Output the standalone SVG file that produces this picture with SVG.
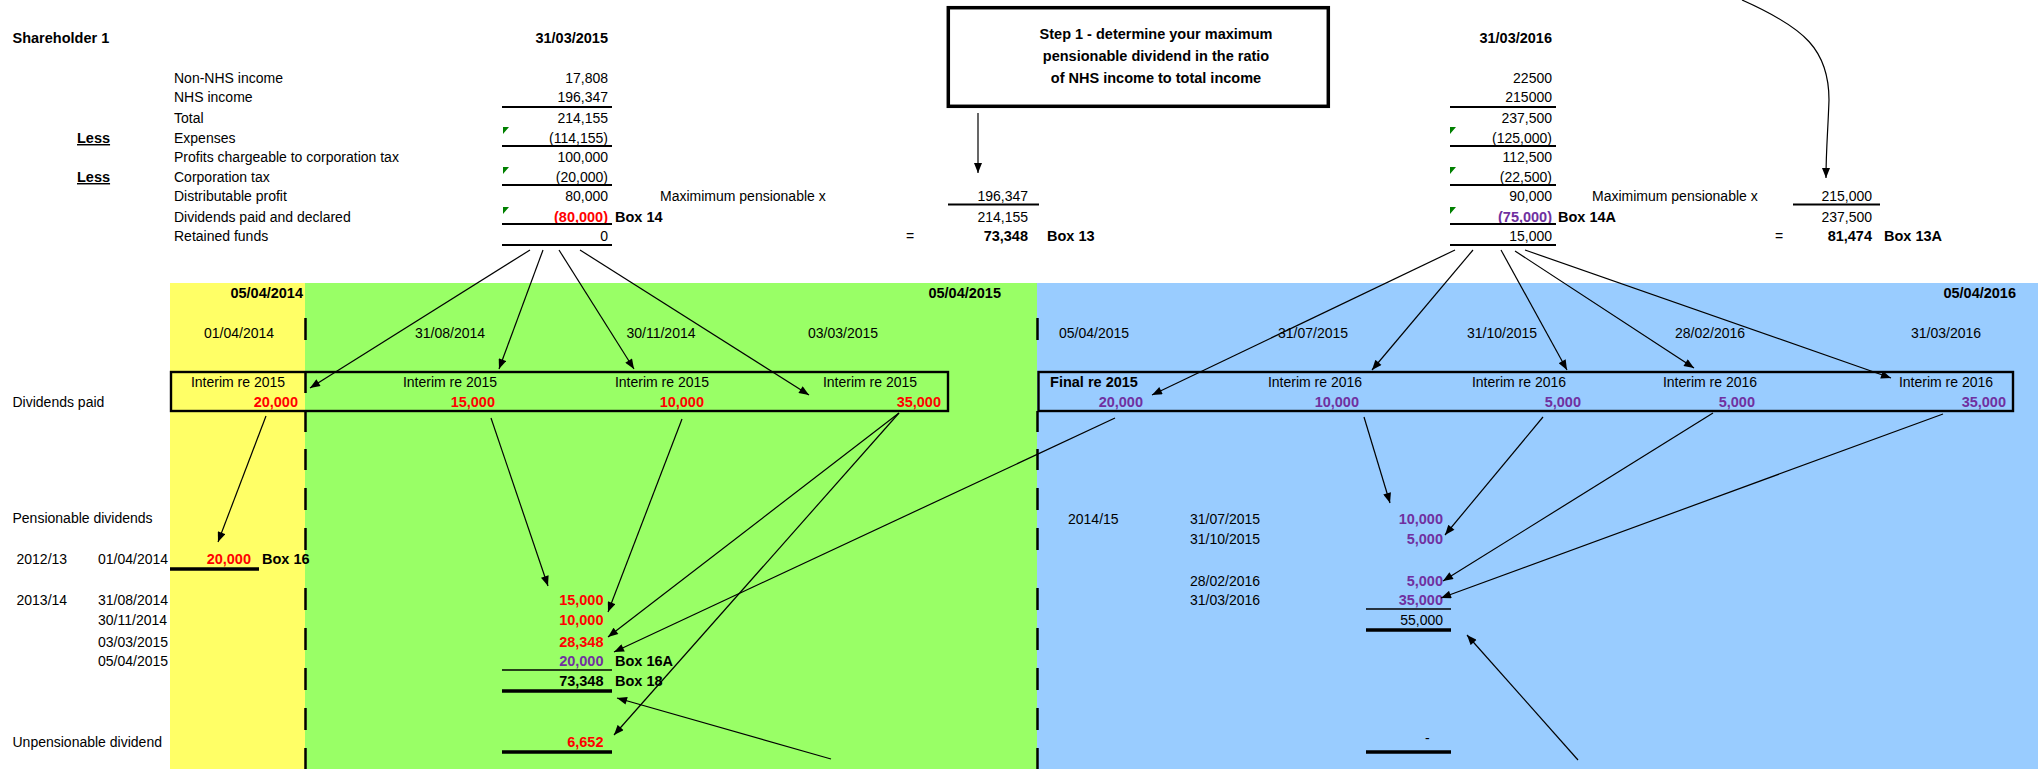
<svg xmlns="http://www.w3.org/2000/svg" width="2038" height="769" viewBox="0 0 2038 769">
<defs>
<style>
text { font-family: "Liberation Sans", Arial, sans-serif; font-size: 14px; fill: #000; }
.b { font-weight: bold; font-size: 14.5px; }
.r { fill: #FF0000; font-weight: bold; font-size: 14.5px; }
.p { fill: #7030A0; font-weight: bold; font-size: 14.5px; }
.m { text-anchor: middle; }
.e { text-anchor: end; }
.u { text-decoration: underline; }
.ln { stroke: #000; stroke-width: 2; fill: none; }
.thin { stroke: #000; stroke-width: 1.5; fill: none; }
.thick { stroke: #000; stroke-width: 3.5; fill: none; }
.dash { stroke: #000; stroke-width: 2.5; fill: none; }
.box { stroke: #000; stroke-width: 2.4; fill: none; }
.cm { fill: #008000; }
#connectors line, #connectors path { stroke: #000; stroke-width: 1.2; fill: none; marker-end: url(#ah); }
</style>
<marker id="ah" viewBox="0 0 10 8" refX="10" refY="4" markerWidth="11" markerHeight="8" orient="auto" markerUnits="userSpaceOnUse">
<path d="M0,0 L10,4 L0,8 z" fill="#000"/>
</marker>
</defs>
<rect x="0" y="0" width="2038" height="769" fill="#FFFFFF"/>

<g id="bands">
<rect x="170" y="283" width="135" height="486" fill="#FFFF66"/>
<rect x="305" y="283" width="732" height="486" fill="#99FF66"/>
<rect x="1037" y="283" width="1001" height="486" fill="#99CCFF"/>
<path class="dash" d="M305.5,318V340M305.5,373V393M305.5,411V432M305.5,449V470M305.5,488V510M305.5,528V550M305.5,588V610M305.5,628V650M305.5,668V690M305.5,708V730M305.5,748V769"/>
<path class="dash" d="M1037.5,318V340M1037.5,411V432M1037.5,449V470M1037.5,488V510M1037.5,528V550M1037.5,588V610M1037.5,628V650M1037.5,668V690M1037.5,708V730M1037.5,748V769"/>
</g>

<g id="pl2015">
<text x="12.5" y="43" class="b">Shareholder 1</text>
<text x="608" y="43" class="b e">31/03/2015</text>
<text x="174" y="83">Non-NHS income</text><text x="608" y="83" class="e">17,808</text>
<text x="174" y="102">NHS income</text><text x="608" y="102" class="e">196,347</text>
<text x="174" y="123">Total</text><text x="608" y="123" class="e">214,155</text>
<text x="77" y="143" class="b u">Less</text>
<text x="174" y="143">Expenses</text><text x="608" y="143" class="e">(114,155)</text>
<text x="174" y="162">Profits chargeable to corporation tax</text><text x="608" y="162" class="e">100,000</text>
<text x="77" y="182" class="b u">Less</text>
<text x="174" y="182">Corporation tax</text><text x="608" y="182" class="e">(20,000)</text>
<text x="174" y="201">Distributable profit</text><text x="608" y="201" class="e">80,000</text>
<text x="174" y="222">Dividends paid and declared</text><text x="608" y="222" class="r e">(80,000)</text><text x="615" y="222" class="b">Box 14</text>
<text x="174" y="241">Retained funds</text><text x="608" y="241" class="e">0</text>
<path class="ln" d="M502,107H612M502,146H612M502,185H612M502,224H612M502,245H612"/>
<path class="cm" d="M503,127h6l-6,7z M503,167h6l-6,7z M503,207h6l-6,7z"/>
</g>

<g id="pl2016">
<text x="1552" y="43" class="b e">31/03/2016</text>
<text x="1552" y="83" class="e">22500</text>
<text x="1552" y="102" class="e">215000</text>
<text x="1552" y="123" class="e">237,500</text>
<text x="1552" y="143" class="e">(125,000)</text>
<text x="1552" y="162" class="e">112,500</text>
<text x="1552" y="182" class="e">(22,500)</text>
<text x="1552" y="201" class="e">90,000</text>
<text x="1552" y="222" class="p e">(75,000)</text><text x="1558" y="222" class="b">Box 14A</text>
<text x="1552" y="241" class="e">15,000</text>
<path class="ln" d="M1450,107H1556M1450,146H1556M1450,185H1556M1450,224H1556M1450,245H1556"/>
<path class="cm" d="M1450,127h6l-6,7z M1450,167h6l-6,7z M1450,207h6l-6,7z"/>
</g>

<g id="step1">
<rect x="948.3" y="7.7" width="380" height="98.6" fill="#FFFFFF" stroke="#000" stroke-width="3.5"/>
<text x="1156" y="39" class="b m">Step 1 - determine your maximum</text>
<text x="1156" y="61" class="b m">pensionable dividend in the ratio</text>
<text x="1156" y="83" class="b m">of NHS income to total income</text>
</g>

<g id="calc2015">
<text x="660" y="201">Maximimum pensionable x</text>
<text x="1028" y="201" class="e">196,347</text>
<path class="ln" d="M948,204.5H1039"/>
<text x="1028" y="222" class="e">214,155</text>
<text x="906" y="241">=</text>
<text x="1028" y="241" class="b e">73,348</text>
<text x="1047" y="241" class="b">Box 13</text>
</g>

<g id="calc2016">
<text x="1592" y="201">Maximimum pensionable x</text>
<text x="1872" y="201" class="e">215,000</text>
<path class="ln" d="M1793,204.5H1880"/>
<text x="1872" y="222" class="e">237,500</text>
<text x="1775" y="241">=</text>
<text x="1872" y="241" class="b e">81,474</text>
<text x="1884" y="241" class="b">Box 13A</text>
</g>

<g id="dates">
<text x="303" y="298" class="b e">05/04/2014</text>
<text x="1001" y="298" class="b e">05/04/2015</text>
<text x="2016" y="298" class="b e">05/04/2016</text>
<text x="239" y="338" class="m">01/04/2014</text>
<text x="450" y="338" class="m">31/08/2014</text>
<text x="661" y="338" class="m">30/11/2014</text>
<text x="843" y="338" class="m">03/03/2015</text>
<text x="1094" y="338" class="m">05/04/2015</text>
<text x="1313" y="338" class="m">31/07/2015</text>
<text x="1502" y="338" class="m">31/10/2015</text>
<text x="1710" y="338" class="m">28/02/2016</text>
<text x="1946" y="338" class="m">31/03/2016</text>
</g>

<g id="divbox2015">
<text x="12.5" y="407">Dividends paid</text>
<rect class="box" x="171" y="372" width="777" height="39"/>
<text x="238" y="387" class="m">Interim re 2015</text><text x="298" y="407" class="r e">20,000</text>
<text x="450" y="387" class="m">Interim re 2015</text><text x="495" y="407" class="r e">15,000</text>
<text x="662" y="387" class="m">Interim re 2015</text><text x="704" y="407" class="r e">10,000</text>
<text x="870" y="387" class="m">Interim re 2015</text><text x="941" y="407" class="r e">35,000</text>
</g>

<g id="divbox2016">
<rect class="box" x="1038.5" y="372" width="974.5" height="39"/>
<text x="1094" y="387" class="b m">Final re 2015</text><text x="1143" y="407" class="p e">20,000</text>
<text x="1315" y="387" class="m">Interim re 2016</text><text x="1359" y="407" class="p e">10,000</text>
<text x="1519" y="387" class="m">Interim re 2016</text><text x="1581" y="407" class="p e">5,000</text>
<text x="1710" y="387" class="m">Interim re 2016</text><text x="1755" y="407" class="p e">5,000</text>
<text x="1946" y="387" class="m">Interim re 2016</text><text x="2006" y="407" class="p e">35,000</text>
</g>

<g id="pens2015">
<text x="12.5" y="523">Pensionable dividends</text>
<text x="16.5" y="564">2012/13</text>
<text x="98" y="564">01/04/2014</text>
<text x="251" y="564" class="r e">20,000</text>
<text x="262" y="564" class="b">Box 16</text>
<path class="thick" d="M170,569H259"/>
<text x="16.5" y="605">2013/14</text>
<text x="98" y="605">31/08/2014</text><text x="603.5" y="605" class="r e">15,000</text>
<text x="98" y="625">30/11/2014</text><text x="603.5" y="625" class="r e">10,000</text>
<text x="98" y="647">03/03/2015</text><text x="603.5" y="647" class="r e">28,348</text>
<text x="98" y="666">05/04/2015</text><text x="603.5" y="666" class="p e">20,000</text>
<text x="615" y="666" class="b">Box 16A</text>
<path class="thin" d="M502,670H612"/>
<text x="603.5" y="686" class="b e">73,348</text>
<text x="615" y="686" class="b">Box 18</text>
<path class="thick" d="M502,691H612"/>
<text x="12.5" y="747">Unpensionable dividend</text>
<text x="603.5" y="747" class="r e">6,652</text>
<path class="thick" d="M502,752H612"/>
</g>

<g id="pens2016">
<text x="1068" y="524">2014/15</text>
<text x="1190" y="524">31/07/2015</text><text x="1443" y="524" class="p e">10,000</text>
<text x="1190" y="544">31/10/2015</text><text x="1443" y="544" class="p e">5,000</text>
<text x="1190" y="586">28/02/2016</text><text x="1443" y="586" class="p e">5,000</text>
<text x="1190" y="605">31/03/2016</text><text x="1443" y="605" class="p e">35,000</text>
<path class="thin" d="M1366,609H1451"/>
<text x="1443" y="625" class="e">55,000</text>
<path class="thick" d="M1366,630H1451"/>
<text x="1425" y="743">-</text>
<path class="thick" d="M1366,752H1451"/>
</g>

<g id="connectors">
<line x1="978" y1="113" x2="978" y2="173"/>
<path d="M1742,0 C1805,28 1829,50 1829,100 C1828,130 1826,150 1826,178"/>
<line x1="530" y1="250" x2="310" y2="388"/>
<line x1="543" y1="250" x2="499" y2="369"/>
<line x1="559" y1="250" x2="634" y2="369"/>
<line x1="580" y1="250" x2="809" y2="395"/>
<line x1="1455" y1="250" x2="1152" y2="395"/>
<line x1="1473" y1="250" x2="1372" y2="370"/>
<line x1="1501" y1="250" x2="1567" y2="370"/>
<line x1="1515" y1="251" x2="1694" y2="368"/>
<line x1="1525" y1="250" x2="1891" y2="378"/>
<line x1="266" y1="416" x2="218" y2="542"/>
<line x1="491" y1="418" x2="548" y2="586"/>
<line x1="682" y1="419" x2="608" y2="612"/>
<line x1="899" y1="413" x2="608" y2="637"/>
<line x1="899" y1="413" x2="614" y2="735"/>
<line x1="1115" y1="418" x2="614" y2="652"/>
<line x1="831" y1="759" x2="617" y2="698"/>
<line x1="1364" y1="417" x2="1390" y2="503"/>
<line x1="1543" y1="417" x2="1445" y2="535"/>
<line x1="1713" y1="413" x2="1443" y2="581"/>
<line x1="1943" y1="414" x2="1441" y2="598"/>
<line x1="1578" y1="760" x2="1467" y2="635"/>
</g>
</svg>
